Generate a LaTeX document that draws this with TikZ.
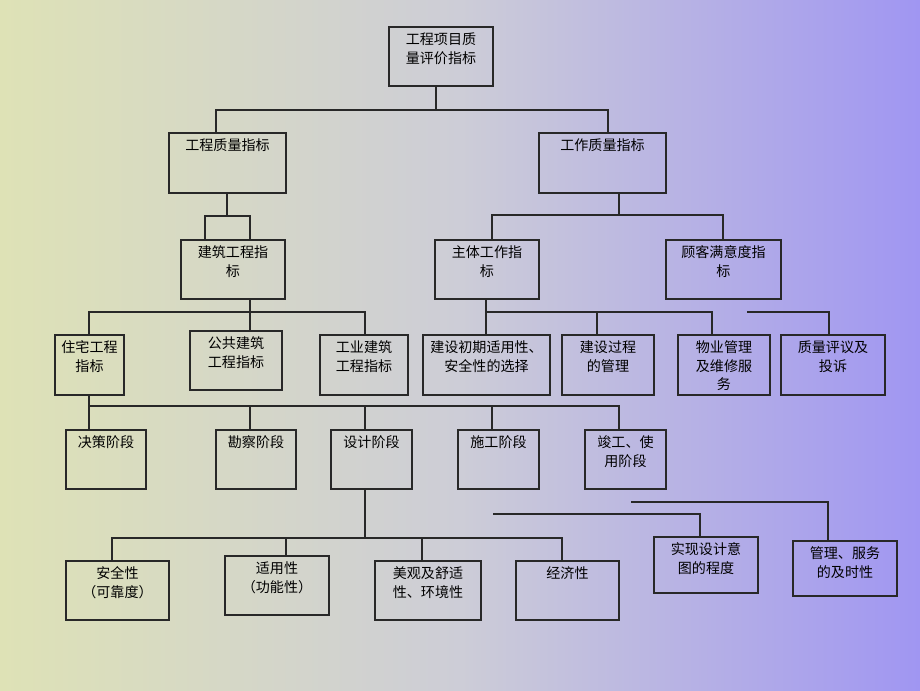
\documentclass[tikz,border=0pt]{standalone}
\usepackage{fontspec}
\setmainfont{Noto Sans CJK SC}
\usepackage{tikz}
\definecolor{bgleft}{RGB}{222,226,182}
\definecolor{bgmid}{RGB}{205,205,215}
\definecolor{bgright}{RGB}{160,150,242}
\definecolor{edge}{RGB}{40,40,40}
% box: lower-left x, y, upper-right x, y (pixels, y downwards), name, text
\newcommand{\bx}[6]{%
  \node[box, minimum width={(#3-#1)*0.03cm}, minimum height={(#4-#2)*0.03cm}]
    (#5) at ({(#1+#3)/2},{(#2+#4)/2}) {};
  \node[boxtext, anchor=north] at (#5.north) {#6};}

\begin{document}
\begin{tikzpicture}
            [
            x=0.03cm, y=-0.03cm,
            box/.style={draw=edge, line width=0.9pt, inner sep=0pt},
            boxtext/.style={font=\fontsize{12}{16}\selectfont, align=center,
                inner sep=0pt, yshift=-5pt},
            link/.style={draw=edge, line width=0.9pt},
            ]
            % Background
            \shade[left color=bgleft, right color=bgright, middle color=bgmid]
                (0,0) rectangle (920,690);

            % Top levels
            \bx{389}{27}{493}{86}{root}{工程项目质\\量评价指标}
            \bx{169}{133}{286}{193}{gczl}{工程质量指标}
            \bx{539}{133}{666}{193}{gzzl}{工作质量指标}
            \bx{181}{240}{285}{299}{jzgc}{建筑工程指\\标}
            \bx{435}{240}{539}{299}{ztgz}{主体工作指\\标}
            \bx{666}{240}{781}{299}{gkmy}{顾客满意度指\\标}

            % Building types
            \bx{55}{335}{124}{395}{zzgc}{住宅工程\\指标}
            \bx{190}{331}{282}{390}{ggjz}{公共建筑\\工程指标}
            \bx{320}{335}{408}{395}{gyjz}{工业建筑\\工程指标}

            % Work items
            \bx{423}{335}{550}{395}{jscq}{建设初期适用性、\\安全性的选择}
            \bx{562}{335}{654}{395}{jsgc}{建设过程\\的管理}
            \bx{678}{335}{770}{395}{wygl}{物业管理\\及维修服\\务}
            \bx{781}{335}{885}{395}{zlpy}{质量评议及\\投诉}

            % Stages
            \bx{66}{430}{146}{489}{jcjd}{决策阶段}
            \bx{216}{430}{296}{489}{kcjd}{勘察阶段}
            \bx{331}{430}{412}{489}{sjjd}{设计阶段}
            \bx{458}{430}{539}{489}{sgjd}{施工阶段}
            \bx{585}{430}{666}{489}{jgsy}{竣工、使\\用阶段}

            % Design properties
            \bx{66}{561}{169}{620}{aqx}{安全性\\（可靠度）}
            \bx{225}{556}{329}{615}{syx}{适用性\\（功能性）}
            \bx{375}{561}{481}{620}{mgss}{美观及舒适\\性、环境性}
            \bx{516}{561}{619}{620}{jjx}{经济性}
            \bx{654}{537}{758}{593}{sxsj}{实现设计意\\图的程度}
            \bx{793}{541}{897}{596}{glfw}{管理、服务\\的及时性}

            % Connectors
            \draw[link] (root.south -| 436,0) -- (436,110);
            \draw[link] (gczl.north -| 216,0) |- (436,110) -| (gzzl.north -| 608,0);
            \draw[link] (gczl.south -| 227,0) -- (227,216);
            \draw[link] (jzgc.north -| 205,0) |- (227,216) -| (jzgc.north -| 250,0);
            \draw[link] (gzzl.south -| 619,0) -- (619,215);
            \draw[link] (ztgz.north -| 492,0) |- (619,215) -| (gkmy.north -| 723,0);
            \draw[link] (jzgc.south -| 250,0) -- (250,312);
            \draw[link] (zzgc.north -| 89,0) |- (250,312) -| (gyjz.north -| 365,0);
            \draw[link] (250,312) -- (ggjz.north -| 250,0);
            \draw[link] (ztgz.south -| 486,0) -- (jscq.north -| 486,0);
            \draw[link] (486,312) -| (jsgc.north -| 597,0);
            \draw[link] (597,312) -| (wygl.north -| 712,0);
            \draw[link] (747,312) -| (zlpy.north -| 829,0);
            \draw[link] (zzgc.south -| 89,0) -- (jcjd.north -| 89,0);
            \draw[link] (89,406) -| (jgsy.north -| 619,0);
            \draw[link] (250,406) -- (kcjd.north -| 250,0);
            \draw[link] (365,406) -- (sjjd.north -| 365,0);
            \draw[link] (492,406) -- (sgjd.north -| 492,0);
            \draw[link] (sjjd.south -| 365,0) -- (365,538);
            \draw[link] (aqx.north -| 112,0) |- (365,538) -| (jjx.north -| 562,0);
            \draw[link] (286,538) -- (syx.north -| 286,0);
            \draw[link] (422,538) -- (mgss.north -| 422,0);
            \draw[link] (493,514) -| (sxsj.north -| 700,0);
            \draw[link] (631,502) -| (glfw.north -| 828,0);

        \end{tikzpicture}
\end{document}
